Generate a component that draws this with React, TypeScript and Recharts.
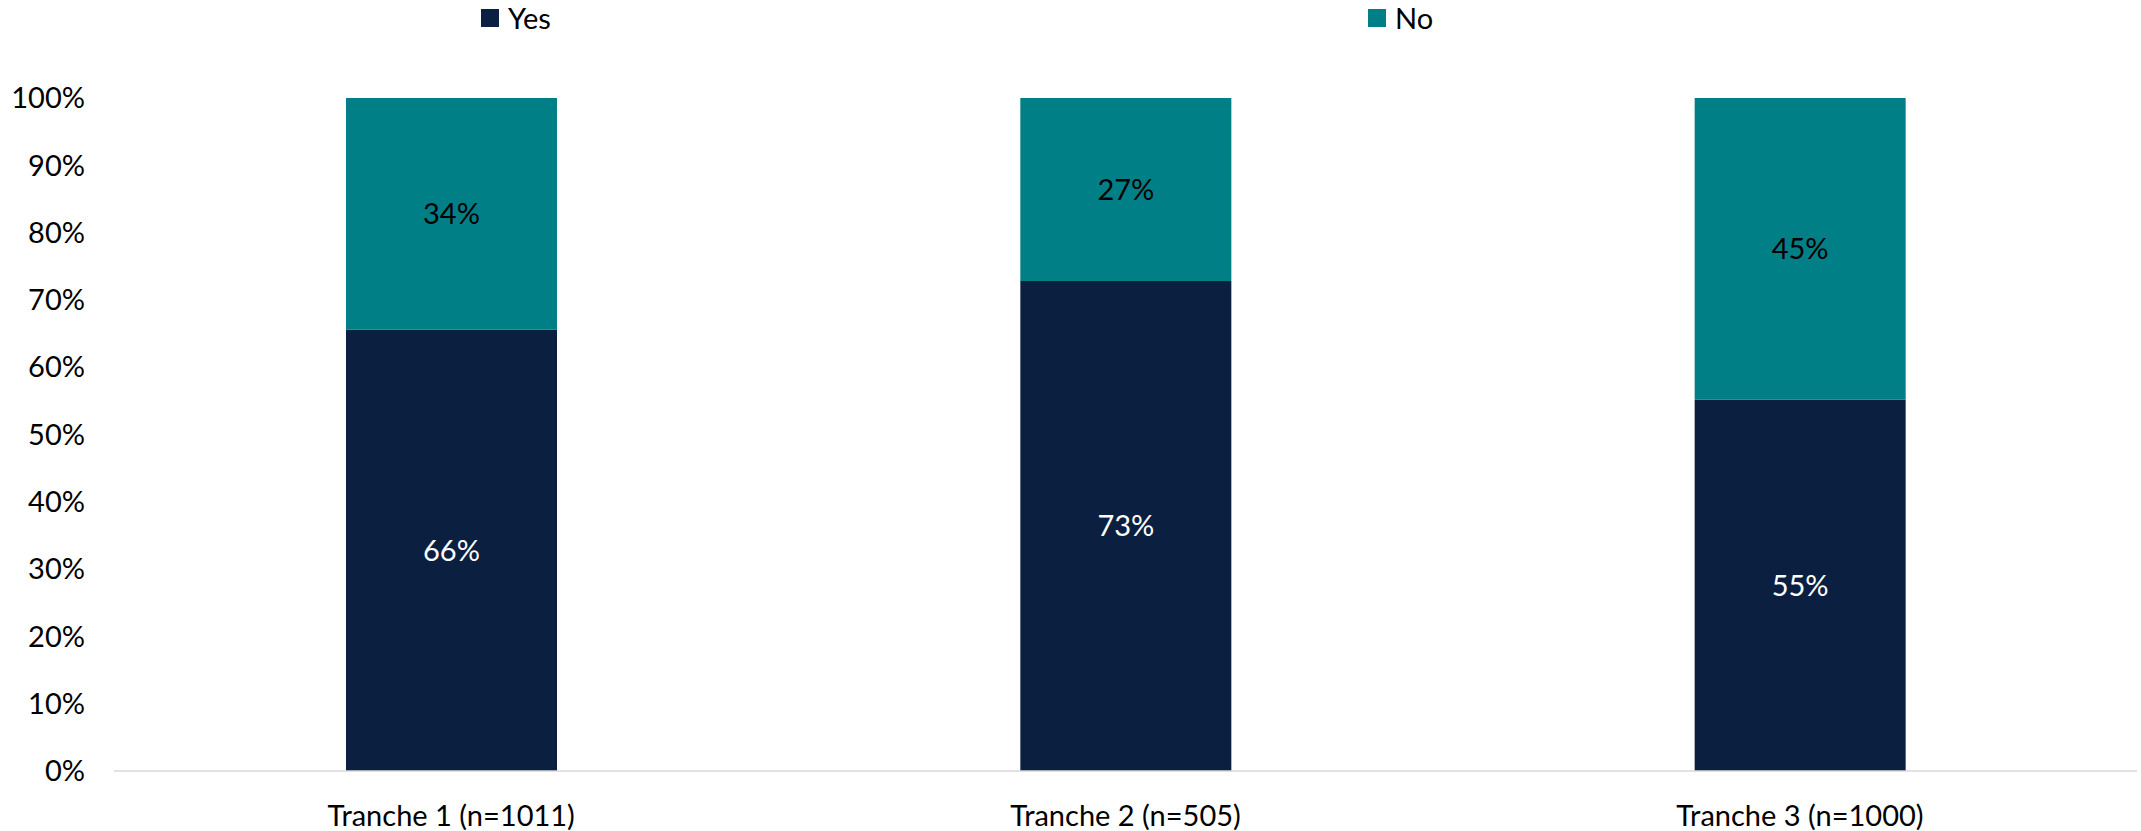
import { Bar, BarChart, LabelList, Legend, XAxis, YAxis } from "recharts";

const categories = ["Tranche 1 (n=1011)", "Tranche 2 (n=505)", "Tranche 3 (n=1000)"];
const yesValues = [65.6, 72.8, 55.2];
const noValues = [34.4, 27.2, 44.8];
const yTicks = [0, 10, 20, 30, 40, 50, 60, 70, 80, 90, 100];

const YES_COLOR = "#0b1f40";
const NO_COLOR = "#007f86";
const FONT = "Lato, 'Open Sans', sans-serif";
const FS = 29;

const data = categories.map((name, i) => ({
  name,
  yes: yesValues[i],
  no: noValues[i],
}));

const pct = (v: unknown) => `${Math.round(Number(v))}%`;

function TopLegend() {
  const items = [
    { label: "Yes", color: YES_COLOR, x: 481 },
    { label: "No", color: NO_COLOR, x: 1368 },
  ];
  return (
    <div style={{ position: "relative", height: 36, width: 2141 }}>
      {items.map((it) => (
        <div
          key={it.label}
          style={{
            position: "absolute",
            left: it.x,
            top: 0,
            display: "flex",
            alignItems: "center",
            fontFamily: FONT,
            fontSize: FS,
            color: "#000",
          }}
        >
          <span
            style={{
              display: "inline-block",
              width: 18,
              height: 18,
              background: it.color,
              marginRight: 9,
            }}
          />
          {it.label}
        </div>
      ))}
    </div>
  );
}

export default function App() {
  return (
    <div style={{ position: "fixed", left: 0, top: 0, background: "#fff" }}>
      <BarChart
        width={2141}
        height={831}
        data={data}
        margin={{ top: 62, right: 4, bottom: 0, left: 0 }}
        barSize={211}
      >
        <Legend
          verticalAlign="top"
          height={36}
          content={() => <TopLegend />}
          wrapperStyle={{ top: 0, left: 0, width: 2141 }}
        />
        <XAxis
          dataKey="name"
          height={60}
          tickLine={false}
          axisLine={{ stroke: "#d9d9d9", strokeWidth: 1.5 }}
          tickMargin={28}
          tick={{ fill: "#000", fontSize: FS, fontFamily: FONT }}
        />
        <YAxis
          width={114}
          domain={[0, 100]}
          ticks={yTicks}
          tickFormatter={(v) => `${v}%`}
          tickLine={false}
          axisLine={false}
          tickSize={0}
          tickMargin={29}
          tick={{ fill: "#000", fontSize: FS, fontFamily: FONT }}
        />
        <Bar dataKey="yes" name="Yes" stackId="a" fill={YES_COLOR} isAnimationActive={false}>
          <LabelList
            dataKey="yes"
            position="center"
            formatter={pct}
            fill="#fff"
            style={{ fontSize: FS, fontFamily: FONT }}
          />
        </Bar>
        <Bar dataKey="no" name="No" stackId="a" fill={NO_COLOR} isAnimationActive={false}>
          <LabelList
            dataKey="no"
            position="center"
            formatter={pct}
            fill="#000"
            style={{ fontSize: FS, fontFamily: FONT }}
          />
        </Bar>
      </BarChart>
    </div>
  );
}
